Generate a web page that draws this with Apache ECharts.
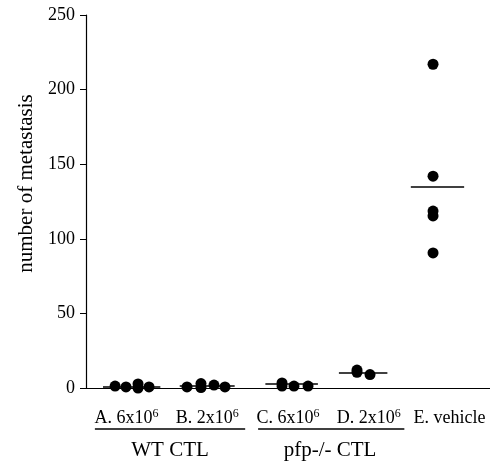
<!DOCTYPE html>
<html>
<head>
<meta charset="utf-8">
<script src="https://cdn.jsdelivr.net/npm/echarts@6/dist/echarts.min.js"></script>
<style>
  html, body { margin: 0; padding: 0; background: #fff; }
  #main { width: 490px; height: 463px; }
</style>
</head>
<body>
<div id="main"></div>
<script>
const categories = ["A. 6x10^6", "B. 2x10^6", "C. 6x10^6", "D. 2x10^6", "E. vehicle"];
// jittered x positions of the dots (category units) and their values
const pointX = [
  [-0.14, -0.005, 0.144, 0.144, 0.28],
  [0.75, 0.923, 0.923, 1.084, 1.22],
  [1.926, 1.926, 2.074, 2.248],
  [2.854, 2.854, 3.015],
  [3.795, 3.795, 3.795, 3.795, 3.795]
];
const pointY = [
  [1.3, 0.7, 2.7, 0, 0.7],
  [0.7, 3.0, 0.3, 2.0, 0.7],
  [3.4, 1.3, 1.3, 1.3],
  [12, 10.5, 9],
  [217, 142, 118.6, 115.3, 90.5]
];
// horizontal mean bars
const means = [0.7, 1.3, 2.7, 10, 134.7];
const meanFrom = [-0.29, 0.66, 1.72, 2.63, 3.52];
const meanTo = [0.42, 1.34, 2.37, 3.23, 4.18];
// group brackets under the labels
const groupNames = ["WT CTL", "pfp-/- CTL"];
const groupFrom = [-0.39, 1.63];
const groupTo = [1.47, 3.44];
const groupCenter = [0.54, 2.52];
const yTicks = [0, 50, 100, 150, 200, 250];

const FONT = "'Liberation Serif', 'Times New Roman', serif";

let myChart = echarts.init(document.getElementById("main"));

let series = [];
pointX.forEach((xs, g) => {
  series.push({
    type: "scatter",
    xAxisIndex: 1,
    symbolSize: 11,
    itemStyle: { color: "#000", opacity: 1 },
    data: xs.map((x, i) => [x, pointY[g][i]])
  });
  series.push({
    type: "line",
    xAxisIndex: 1,
    symbol: "none",
    lineStyle: { color: "#000", width: 1.5 },
    data: [[meanFrom[g], means[g]], [meanTo[g], means[g]]]
  });
});

let option = {
  animation: false,
  grid: { left: 86, right: 0, top: 15, bottom: 75 },
  xAxis: [
    {
      type: "category",
      data: categories,
      axisLine: { lineStyle: { color: "#000", width: 1.2 } },
      axisTick: {
        interval: (i) => i === 2 || i === 4,
        length: 8,
        lineStyle: { color: "#000" }
      },
      axisLabel: {
        margin: 20,
        interval: 0,
        fontFamily: FONT,
        fontSize: 18,
        color: "#000",
        formatter: (v) => {
          let p = v.split("^");
          return p.length > 1 ? "{a|" + p[0] + "}{s|" + p[1] + "}" : "{a|" + v + "}";
        },
        rich: {
          a: { fontFamily: FONT, fontSize: 18, color: "#000", lineHeight: 20 },
          s: { fontFamily: FONT, fontSize: 12, color: "#000", lineHeight: 12, verticalAlign: "top" }
        }
      }
    },
    {
      type: "value",
      min: -0.5,
      max: 4.5,
      show: false
    }
  ],
  yAxis: {
    type: "value",
    min: yTicks[0],
    max: yTicks[yTicks.length - 1],
    interval: 50,
    name: "number of metastasis",
    nameLocation: "middle",
    nameGap: 43,
    nameTextStyle: { fontFamily: FONT, fontSize: 21, color: "#000", padding: [0, 0, 0, 36] },
    axisLine: { show: true, onZero: false, lineStyle: { color: "#000", width: 1.2 } },
    axisTick: { show: true, length: 6, lineStyle: { color: "#000" } },
    axisLabel: { margin: 11, fontFamily: FONT, fontSize: 18, color: "#000" },
    splitLine: { show: false }
  },
  series: series
};

myChart.setOption(option);

// group underlines and names, placed through the hidden value axis
let lineY = 429;
let graphics = [];
groupNames.forEach((name, g) => {
  let x0 = myChart.convertToPixel({ xAxisIndex: 1 }, groupFrom[g]);
  let x1 = myChart.convertToPixel({ xAxisIndex: 1 }, groupTo[g]);
  let xc = myChart.convertToPixel({ xAxisIndex: 1 }, groupCenter[g]);
  graphics.push({
    type: "line",
    shape: { x1: x0, y1: lineY, x2: x1, y2: lineY },
    style: { stroke: "#000", lineWidth: 1.5 }
  });
  graphics.push({
    type: "text",
    x: xc,
    y: 450,
    style: {
      text: name,
      font: "21px " + FONT,
      fill: "#000",
      textAlign: "center",
      textVerticalAlign: "middle"
    }
  });
});
myChart.setOption({ graphic: graphics });
</script>
</body>
</html>
